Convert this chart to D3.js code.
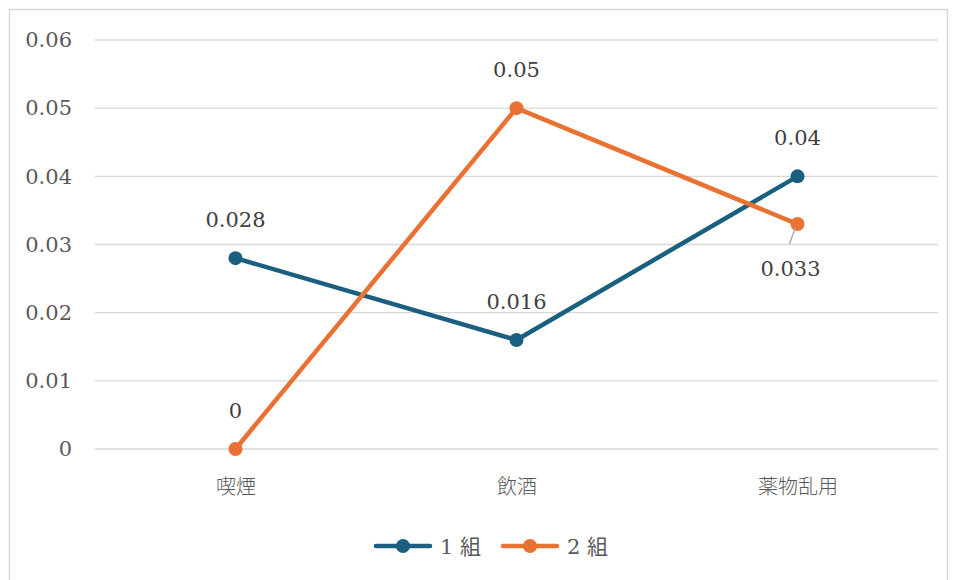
<!DOCTYPE html>
<html>
<head>
<meta charset="utf-8">
<script src="https://cdn.jsdelivr.net/npm/d3@7"></script>
<style>
  body { margin: 0; background: #fff; }
  svg { display: block; }
  .num { font-family: "DejaVu Serif", serif; }
  .cjk { font-family: "Noto Sans CJK JP", sans-serif; }
</style>
</head>
<body>
<svg width="955" height="580"></svg>
<script>
// chart data
var categories = ["喫煙", "飲酒", "薬物乱用"];
var seriesNames = ["1 組", "2 組"];
var group1 = [0.028, 0.016, 0.04];
var group2 = [0, 0.05, 0.033];
var yTicks = [0, 0.01, 0.02, 0.03, 0.04, 0.05, 0.06];

var colors = ["#1b5f80", "#e97132"];
var svg = d3.select("svg");

// outer frame
svg.append("rect")
    .attr("x", 9.5).attr("y", 9.5)
    .attr("width", 938).attr("height", 600)
    .attr("fill", "none")
    .attr("stroke", "#d9d9d9")
    .attr("stroke-width", 1.5);

var plotLeft = 95, plotRight = 938, plotTop = 40, plotBottom = 449;

var xScale = d3.scalePoint()
    .domain(categories)
    .range([plotLeft, plotRight])
    .padding(0.5);

var yScale = d3.scaleLinear()
    .domain([0, 0.06])
    .range([plotBottom, plotTop]);

// gridlines
svg.append("g")
    .selectAll("line")
    .data(yTicks)
    .enter().append("line")
    .attr("x1", plotLeft).attr("x2", plotRight)
    .attr("y1", function (d) { return yScale(d); })
    .attr("y2", function (d) { return yScale(d); })
    .attr("stroke", "#d9d9d9")
    .attr("stroke-width", 1.3);

// y axis labels
var yAxis = d3.axisLeft(yScale)
    .tickValues(yTicks)
    .tickSize(0)
    .tickPadding(0)
    .tickFormat(function (d) { return d === 0 ? "0" : d3.format(".2f")(d); });

var yg = svg.append("g")
    .attr("transform", "translate(72,0)")
    .call(yAxis)
    .attr("font-family", null)
    .attr("font-size", null);
yg.select(".domain").remove();
yg.selectAll("text")
    .attr("class", "num")
    .attr("fill", "#595959")
    .style("font-size", "21px");

// x axis labels
var xAxis = d3.axisBottom(xScale).tickSize(0).tickPadding(0);
var xg = svg.append("g")
    .attr("transform", "translate(0,480)")
    .call(xAxis)
    .attr("font-family", null)
    .attr("font-size", null);
xg.select(".domain").remove();
xg.selectAll("text")
    .attr("class", "cjk")
    .attr("fill", "#595959")
    .style("font-size", "20px")
    .style("font-weight", 300);

// lines
var series = [group1, group2];
var line = d3.line()
    .x(function (d, i) { return xScale(categories[i]); })
    .y(function (d) { return yScale(d); });

series.forEach(function (vals, s) {
    svg.append("path")
        .datum(vals)
        .attr("d", line)
        .attr("fill", "none")
        .attr("stroke", colors[s])
        .attr("stroke-width", 4.5)
        .attr("stroke-linejoin", "round");
});

series.forEach(function (vals, s) {
    svg.append("g")
        .selectAll("circle")
        .data(vals)
        .enter().append("circle")
        .attr("cx", function (d, i) { return xScale(categories[i]); })
        .attr("cy", function (d) { return yScale(d); })
        .attr("r", 7)
        .attr("fill", colors[s]);
});

// data labels (one below with a leader line)
function fmt(v) { return v === 0 ? "0" : String(v); }

series.forEach(function (vals, s) {
    svg.append("g")
        .selectAll("text")
        .data(vals)
        .enter().append("text")
        .attr("class", "num")
        .attr("x", function (d, i) {
            if (s === 1 && i === 2) return xScale(categories[i]) - 7;
            return xScale(categories[i]);
        })
        .attr("y", function (d, i) {
            if (s === 1 && i === 2) return yScale(d) + 52;
            return yScale(d) - 31;
        })
        .attr("text-anchor", "middle")
        .attr("fill", "#404040")
        .style("font-size", "21px")
        .text(fmt);
});

// leader line for 0.033
svg.append("line")
    .attr("x1", xScale(categories[2]) - 2)
    .attr("y1", yScale(group2[2]) + 3)
    .attr("x2", xScale(categories[2]) - 8)
    .attr("y2", yScale(group2[2]) + 20)
    .attr("stroke", "#a6a6a6")
    .attr("stroke-width", 1.3);

// legend
var legend = svg.append("g").attr("transform", "translate(376,546)");
seriesNames.forEach(function (name, s) {
    var g = legend.append("g").attr("transform", "translate(" + (s * 127) + ",0)");
    g.append("line")
        .attr("x1", 0).attr("x2", 54)
        .attr("stroke", colors[s])
        .attr("stroke-width", 4.5)
        .attr("stroke-linecap", "round");
    g.append("circle").attr("cx", 27).attr("r", 7).attr("fill", colors[s]);
    g.append("text")
        .attr("x", 64).attr("y", 8)
        .attr("fill", "#595959")
        .style("font-size", "21px")
        .style("font-family", "'DejaVu Serif', 'Noto Sans CJK JP', serif")
        .text(name);
});
</script>
</body>
</html>
